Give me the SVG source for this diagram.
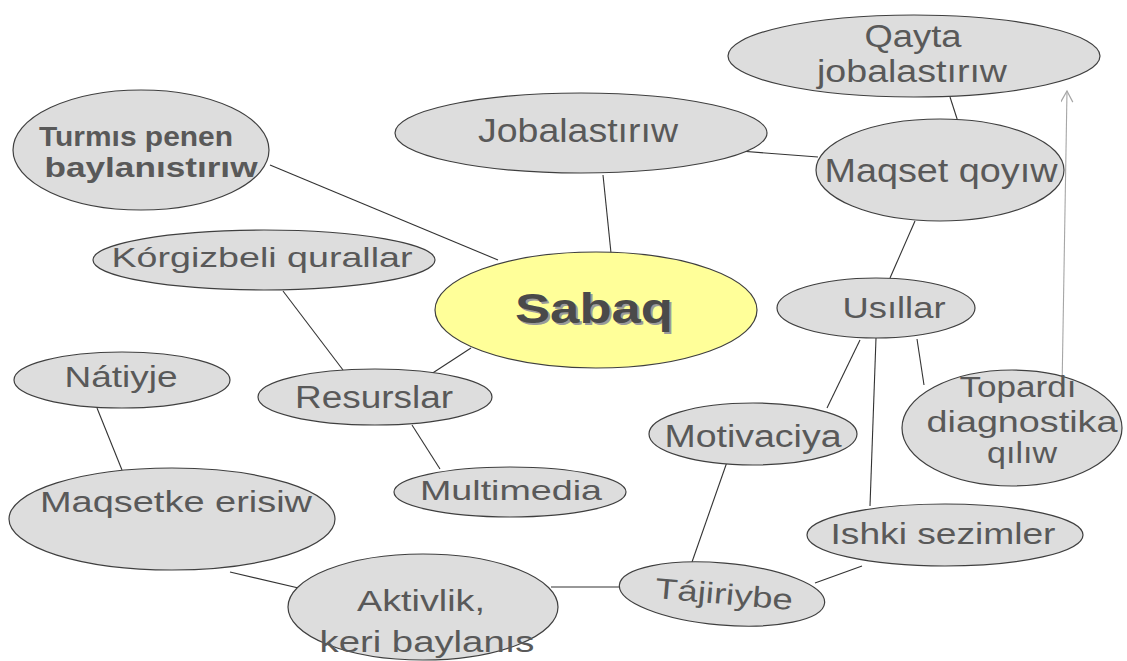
<svg xmlns="http://www.w3.org/2000/svg" width="1127" height="661" viewBox="0 0 1127 661">
<style>
  .n { fill: #dddddd; stroke: #3f3f3f; stroke-width: 1.2; }
  .c { fill: #ffff99; stroke: #3f3f3f; stroke-width: 1.2; }
  .t { font-family: "Liberation Sans", Arial, sans-serif; fill: #595959; text-anchor: middle; }
  .b { font-weight: bold; }
  .e line { stroke: #333333; stroke-width: 1.1; }
</style>
<defs>
  <marker id="arr" markerWidth="14" markerHeight="14" refX="12" refY="6" orient="auto" markerUnits="userSpaceOnUse">
    <path d="M1,0 L12,6 L1,12" fill="none" stroke="#a6a6a6" stroke-width="1.2"/>
  </marker>
</defs>
<rect width="1127" height="661" fill="#ffffff"/>
<g id="connectors" class="e">
  <line x1="270" y1="165" x2="498" y2="260"/>
  <line x1="603" y1="175" x2="611" y2="253"/>
  <line x1="740" y1="151" x2="818" y2="157"/>
  <line x1="950" y1="97" x2="960" y2="128"/>
  <line x1="915" y1="221" x2="890" y2="278"/>
  <line x1="283" y1="291" x2="343" y2="370"/>
  <line x1="425" y1="378" x2="471" y2="348"/>
  <line x1="412" y1="425" x2="440" y2="469"/>
  <line x1="97" y1="408" x2="122" y2="470"/>
  <line x1="230" y1="572" x2="307" y2="590"/>
  <line x1="551" y1="587" x2="631" y2="587"/>
  <line x1="692" y1="562" x2="727" y2="462"/>
  <line x1="815" y1="583" x2="862" y2="566"/>
  <line x1="860" y1="340" x2="827" y2="408"/>
  <line x1="876" y1="338" x2="870" y2="506"/>
  <line x1="917" y1="339" x2="924" y2="385"/>
  <line x1="1062" y1="390" x2="1067" y2="91" stroke="#a6a6a6" style="stroke:#a6a6a6" marker-end="url(#arr)"/>
</g>
<g id="qayta">
  <ellipse class="n" cx="914" cy="56" rx="186" ry="41"/>
  <text class="t" x="913" y="47" font-size="31" textLength="97" lengthAdjust="spacingAndGlyphs">Qayta</text>
  <text class="t" x="912" y="82" font-size="31" textLength="190" lengthAdjust="spacingAndGlyphs">jobalastırıw</text>
</g>
<g id="maqset">
  <ellipse class="n" cx="940" cy="170" rx="124" ry="51"/>
  <text class="t" x="941" y="182" font-size="33" textLength="233" lengthAdjust="spacingAndGlyphs">Maqset qoyıw</text>
</g>
<g id="jobalastiriw">
  <ellipse class="n" cx="581" cy="133" rx="186" ry="40"/>
  <text class="t" x="578" y="142" font-size="33" textLength="200" lengthAdjust="spacingAndGlyphs">Jobalastırıw</text>
</g>
<g id="turmis">
  <ellipse class="n" cx="141" cy="150" rx="128" ry="60"/>
  <text class="t b" x="136" y="146" font-size="28" textLength="194" lengthAdjust="spacingAndGlyphs">Turmıs penen</text>
  <text class="t b" x="151" y="177" font-size="28" textLength="213" lengthAdjust="spacingAndGlyphs">baylanıstırıw</text>
</g>
<g id="korgizbeli">
  <ellipse class="n" cx="264" cy="260" rx="171" ry="30"/>
  <text class="t" x="262" y="267" font-size="28" textLength="301" lengthAdjust="spacingAndGlyphs">Kórgizbeli  qurallar</text>
</g>
<g id="sabaq">
  <ellipse class="c" cx="596" cy="310" rx="161" ry="58"/>
  <text class="t b" x="596" y="325" font-size="42" fill="#9a9a9a" style="fill:#9a9a9a" textLength="158" lengthAdjust="spacingAndGlyphs">Sabaq</text>
  <text class="t b" x="594" y="323" font-size="42" fill="#4a4a4a" style="fill:#4a4a4a" textLength="158" lengthAdjust="spacingAndGlyphs">Sabaq</text>
</g>
<g id="usillar">
  <ellipse class="n" cx="876" cy="308" rx="99" ry="30"/>
  <text class="t" x="894" y="318" font-size="30" textLength="103" lengthAdjust="spacingAndGlyphs">Usıllar</text>
</g>
<g id="natiyje">
  <ellipse class="n" cx="122" cy="380" rx="108" ry="28"/>
  <text class="t" x="121" y="387" font-size="29" textLength="113" lengthAdjust="spacingAndGlyphs">Nátiyje</text>
</g>
<g id="resurslar">
  <ellipse class="n" cx="375" cy="397" rx="117" ry="28"/>
  <text class="t" x="374" y="408" font-size="31" textLength="158" lengthAdjust="spacingAndGlyphs">Resurslar</text>
</g>
<g id="topardi">
  <ellipse class="n" cx="1012" cy="428" rx="110" ry="58"/>
  <text class="t" x="1018" y="397" font-size="30" textLength="117" lengthAdjust="spacingAndGlyphs">Topardı</text>
  <text class="t" x="1022" y="432" font-size="30" textLength="191" lengthAdjust="spacingAndGlyphs">diagnostika</text>
  <text class="t" x="1022" y="463" font-size="30" textLength="70" lengthAdjust="spacingAndGlyphs">qılıw</text>
</g>
<g id="motivaciya">
  <ellipse class="n" cx="753" cy="434" rx="104" ry="31"/>
  <text class="t" x="753" y="447" font-size="31" textLength="177" lengthAdjust="spacingAndGlyphs">Motivaciya</text>
</g>
<g id="multimedia">
  <ellipse class="n" cx="510" cy="492" rx="116" ry="25"/>
  <text class="t" x="511" y="500" font-size="28" textLength="182" lengthAdjust="spacingAndGlyphs">Multimedia</text>
</g>
<g id="maqsetke">
  <ellipse class="n" cx="172" cy="519" rx="163" ry="51"/>
  <text class="t" x="176" y="512" font-size="30" textLength="272" lengthAdjust="spacingAndGlyphs">Maqsetke  erisiw</text>
</g>
<g id="ishki">
  <ellipse class="n" cx="945" cy="535" rx="138" ry="31"/>
  <text class="t" x="943" y="544" font-size="30" textLength="225" lengthAdjust="spacingAndGlyphs">Ishki sezimler</text>
</g>
<g id="aktivlik">
  <ellipse class="n" cx="423" cy="607" rx="135" ry="53"/>
  <text class="t" x="421" y="611" font-size="30" textLength="128" lengthAdjust="spacingAndGlyphs">Aktivlik,</text>
  <text class="t" x="427" y="652" font-size="30" textLength="215" lengthAdjust="spacingAndGlyphs">keri baylanıs</text>
</g>
<g id="tajiriybe">
  <ellipse class="n" cx="722" cy="594" rx="103" ry="31" transform="rotate(5 722 594)"/>
  <text class="t" x="724" y="604" font-size="29" textLength="138" lengthAdjust="spacingAndGlyphs" transform="rotate(5 724 596)">Tájiriybe</text>
</g>
</svg>
